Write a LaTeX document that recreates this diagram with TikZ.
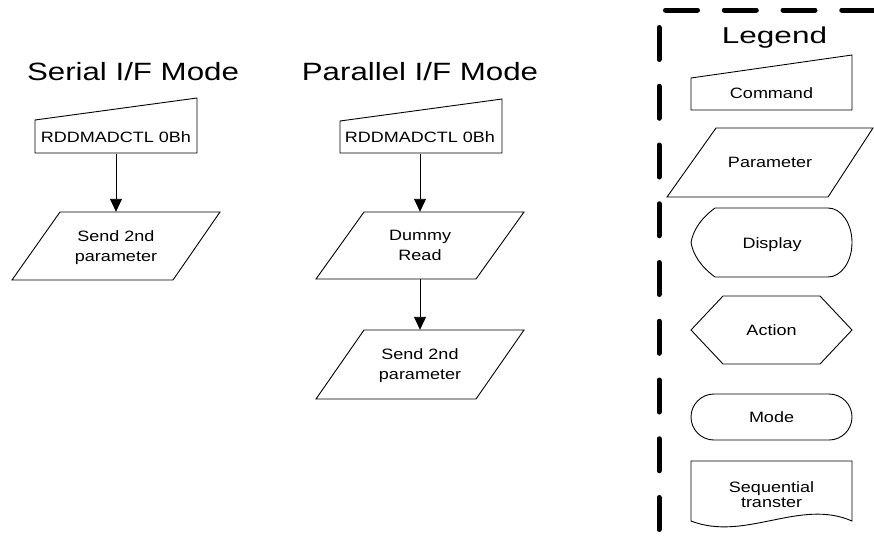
\documentclass[tikz,border=0pt]{standalone}
\usepackage{fontspec}
\setmainfont{Liberation Sans}
\usetikzlibrary{arrows.meta}
\begin{document}
\begin{tikzpicture}[x=1pt,y=-1pt,
  shp/.style={draw=black,line width=0.9pt,line join=miter},
  txt/.style={font=\fontsize{15}{20}\selectfont, xscale=1.2, align=center, inner sep=0pt, text depth=0pt},
  ttl/.style={font=\fontsize{25}{30}\selectfont, xscale=1.25, anchor=base, inner sep=0pt},
  conn/.style={draw=black,line width=0.9pt,-{Triangle[length=13pt,width=12pt]}},
  legline/.style={line width=5pt,line cap=round,dash pattern=on 32pt off 26.75pt}]
\fill[white] (0,0) rectangle (874,547);
\useasboundingbox (0,0) rectangle (874,547);

% titles
\node[ttl] (tser) at (133,80) {Serial I/F Mode};
\node[ttl] (tpar) at (420,80) {Parallel I/F Mode};
\node[font=\fontsize{23}{27}\selectfont, xscale=1.37, anchor=base, inner sep=0pt] (tleg) at (774.5,43.5) {Legend};

% serial column
\draw[shp] (35,120) -- (197,98) -- (197,153) -- (35,153) -- cycle;
\node[txt, minimum height=32pt] (s1) at (116,137.5) {RDDMADCTL 0Bh};
\draw[shp] (60,212) -- (220,212) -- (173,280) -- (12,280) -- cycle;
\node[txt, minimum height=68pt] (s2) at (116,246) {Send 2nd\\parameter};
\draw[conn] (s1.south) -- (s2.north);

% parallel column
\draw[shp] (340,121) -- (502,99) -- (502,153) -- (340,153) -- cycle;
\node[txt, minimum height=32pt] (p1) at (420,137.5) {RDDMADCTL 0Bh};
\draw[shp] (364,212) -- (524,212) -- (476,279) -- (316,279) -- cycle;
\node[txt, minimum height=67pt] (p2) at (420,245.5) {Dummy\\Read};
\draw[shp] (364,330) -- (524,330) -- (476,399) -- (316,399) -- cycle;
\node[txt, minimum height=69pt] (p3) at (420,364.5) {Send 2nd\\parameter};
\draw[conn] (p1.south) -- (p2.north);
\draw[conn] (p2.south) -- (p3.north);

% legend border
\draw[legline] (665.5,10) -- (880,10);
\draw[legline] (659,27.5) -- (659,560);

% legend shapes
\draw[shp] (691,78) -- (852,55) -- (852,110) -- (691,110) -- cycle;
\node[txt] (l1) at (771.5,93.5) {Command};
\draw[shp] (716,128) -- (873,128) -- (828,197) -- (667,197) -- cycle;
\node[txt] (l2) at (770,162.5) {Parameter};
\draw[shp] (715,208) -- (828,208) arc[start angle=-90, end angle=90, x radius=24, y radius=34.5]
  -- (715,277) .. controls (700,266) and (693,254) .. (691,242.5)
  .. controls (693,231) and (700,219) .. cycle;
\node[txt] (l3) at (772,243) {Display};
\draw[shp] (691,330) -- (723,296) -- (820,296) -- (852,330) -- (820,364) -- (723,364) -- cycle;
\node[txt] (l4) at (771.5,330) {Action};
\draw[shp, rounded corners=23pt] (691,394) rectangle (852,440);
\node[txt] (l5) at (771.5,417) {Mode};
\draw[shp] (691,461) -- (852,461) -- (852,521) .. controls (800,498) and (745,542) .. (691,521) -- cycle;
\node[txt, font=\fontsize{15}{15}\selectfont] (l6) at (771.5,494.5) {Sequential\\transter};
\end{tikzpicture}
\end{document}
